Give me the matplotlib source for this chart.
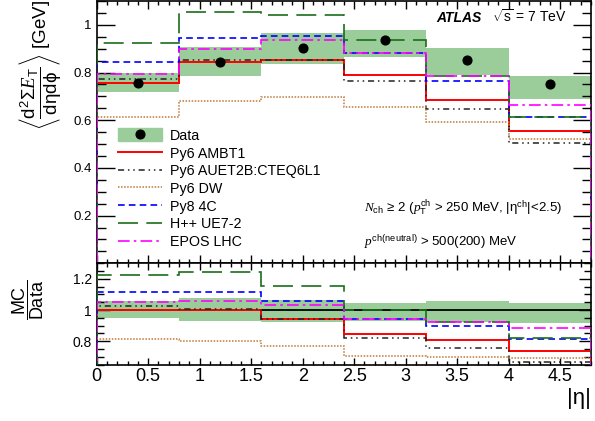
import numpy as np
import matplotlib
matplotlib.use("Agg")
import matplotlib.pyplot as plt
from matplotlib.lines import Line2D
from matplotlib.patches import Patch
from matplotlib.ticker import MultipleLocator, FuncFormatter

# ── Style ─────────────────────────────────────────────────────────────
plt.rcParams["font.family"] = ["Liberation Sans", "DejaVu Sans"]
plt.rcParams["mathtext.fontset"] = "custom"
plt.rcParams["mathtext.rm"] = "Liberation Sans"
plt.rcParams["mathtext.sf"] = "Liberation Sans"
plt.rcParams["mathtext.it"] = "Liberation Serif:italic"
plt.rcParams["mathtext.bf"] = "Liberation Sans:bold"

# ── Data ──────────────────────────────────────────────────────────────
eta_edges = [0.0, 0.8, 1.6, 2.4, 3.2, 4.0, 4.8]
data      = [0.755, 0.846, 0.904, 0.935, 0.853, 0.752]
data_lo   = [0.718, 0.784, 0.837, 0.866, 0.789, 0.689]
data_hi   = [0.797, 0.909, 0.964, 0.977, 0.904, 0.786]

py6_ambt1  = [0.757, 0.845, 0.851, 0.788, 0.686, 0.554]
py6_auet2b = [0.773, 0.853, 0.852, 0.766, 0.647, 0.503]
py6_dw     = [0.614, 0.680, 0.697, 0.656, 0.594, 0.522]
py8_4c     = [0.843, 0.943, 0.955, 0.880, 0.764, 0.614]
hpp_ue72   = [0.925, 1.052, 1.042, 0.935, 0.785, 0.615]
epos_lhc   = [0.795, 0.897, 0.935, 0.880, 0.785, 0.665]

MODELS = [
    ("Py6 AMBT1",          py6_ambt1,  "#ff0000", "-",                        1.4),
    ("Py6 AUET2B:CTEQ6L1", py6_auet2b, "#222222", (0, (4, 2.5, 1, 2.5, 1, 2.5)), 1.1),
    ("Py6 DW",             py6_dw,     "#c07838", (0, (1, 1)),               1.1),
    ("Py8 4C",             py8_4c,     "#0000ff", (0, (4, 2.5)),             1.2),
    ("H++ UE7-2",          hpp_ue72,   "#1a6e1a", (0, (12, 5)),              1.2),
    ("EPOS LHC",           epos_lhc,   "#ff00ff", (0, (7, 2.5, 1.5, 2.5)),   1.2),
]
BAND = "#9acd9a"

edges = np.array(eta_edges)
centers = 0.5 * (edges[:-1] + edges[1:])
d = np.array(data)

# ── Figure ────────────────────────────────────────────────────────────
fig = plt.figure(figsize=(5.95, 4.21), dpi=100)
ax1 = fig.add_axes([0.1625, 0.3746, 0.8308, 0.6230])
ax2 = fig.add_axes([0.1625, 0.1342, 0.8308, 0.2404], sharex=ax1)

# main panel
ax1.stairs(data_hi, edges, baseline=data_lo, fill=True, color=BAND, lw=0, zorder=1)
for label, vals, col, ls, lw in MODELS:
    ax1.stairs(vals, edges, baseline=0, color=col, linestyle=ls, lw=lw, zorder=3)
ax1.plot(centers, data, "o", color="black", ms=6.3, zorder=5)

ax1.set_xlim(0, 4.8)
ax1.set_ylim(0, 1.1)

# ratio panel
ax2.stairs(np.array(data_hi) / d, edges, baseline=np.array(data_lo) / d,
           fill=True, color=BAND, lw=0, zorder=1)
ax2.axhline(1.0, color="black", lw=1.3, zorder=2)
for label, vals, col, ls, lw in MODELS:
    ax2.stairs(np.array(vals) / d, edges, baseline=0, color=col, linestyle=ls, lw=lw, zorder=3)
ax2.set_ylim(0.65, 1.3)

# ── Ticks ─────────────────────────────────────────────────────────────
fmt = FuncFormatter(lambda v, p: f"{v:g}")
for ax in (ax1, ax2):
    for s in ax.spines.values():
        s.set_linewidth(1.2)
    ax.tick_params(which="both", direction="in", top=True, right=True, width=1.0)
    ax.xaxis.set_major_locator(MultipleLocator(0.5))
    ax.xaxis.set_minor_locator(MultipleLocator(0.1))
    ax.yaxis.set_major_locator(MultipleLocator(0.2))
    ax.yaxis.set_minor_locator(MultipleLocator(0.05))
    ax.yaxis.set_major_formatter(fmt)

ax1.tick_params(axis="x", which="major", length=5.5, labelbottom=False)
ax1.tick_params(axis="x", which="minor", length=3)
ax1.tick_params(axis="y", which="major", length=13, labelsize=9.5, pad=3.5)
ax1.tick_params(axis="y", which="minor", length=6.5)
ax1.set_yticks([0.2, 0.4, 0.6, 0.8, 1.0])
ax1.yaxis.set_minor_locator(MultipleLocator(0.05))

ax2.tick_params(axis="x", which="major", length=5, labelsize=13, pad=2.5)
ax2.tick_params(axis="x", which="minor", length=3)
ax2.tick_params(axis="y", which="major", length=9, labelsize=10, pad=3.5)
ax2.tick_params(axis="y", which="minor", length=5)
ax2.set_yticks([0.8, 1.0, 1.2])
ax2.xaxis.set_major_formatter(fmt)
ax2.set_xticks([0, 0.5, 1, 1.5, 2, 2.5, 3, 3.5, 4, 4.5])

# ── Legend ────────────────────────────────────────────────────────────
handles = [(Patch(color=BAND), Line2D([], [], marker="o", color="black", ls="none", ms=6.3))]
labels = ["Data"]
for label, vals, col, ls, lw in MODELS:
    handles.append(Line2D([], [], color=col, linestyle=ls, lw=lw))
    labels.append(label)
ax1.legend(handles, labels, loc="upper left", bbox_to_anchor=(0.043, 0.514),
           frameon=False, fontsize=10.3, handlelength=3.1, handleheight=1.0,
           handletextpad=0.56, labelspacing=0.24, borderpad=0, borderaxespad=0)

# ── Texts ─────────────────────────────────────────────────────────────
fig.text(40 / 595, 1.0, r"$\left\langle\dfrac{\mathrm{d}^2\Sigma E_{\mathrm{T}}}{\mathrm{dηdϕ}}\right\rangle$ [GeV]",
         rotation=90, ha="center", va="top", fontsize=13.5)
fig.text(28 / 595, 1 - 300 / 421, r"$\dfrac{\mathrm{MC}}{\mathrm{Data}}$",
         rotation=90, ha="center", va="center", fontsize=13)
fig.text(591 / 595, 1 - 388 / 421, "|η|", ha="right", va="top", fontsize=16)

fig.text(436 / 595, 1 - 21.7 / 421, "ATLAS", weight="bold", style="italic",
         fontsize=10, va="baseline")
fig.text(492 / 595, 1 - 21.7 / 421, r"$\sqrt{\mathrm{s}}$ = 7 TeV", fontsize=10, va="baseline")
fig.text(364 / 595, 1 - 212 / 421,
         r"$N_{\mathrm{ch}}$ ≥ 2 ($p_{\mathrm{T}}^{\mathrm{ch}}$ > 250 MeV, |η$^{\mathrm{ch}}$|<2.5)",
         fontsize=9.5, va="baseline")
fig.text(364 / 595, 1 - 245 / 421, r"$p^{\mathrm{ch(neutral)}}$ > 500(200) MeV",
         fontsize=9.5, va="baseline")

fig.savefig("out.png", dpi=100)
